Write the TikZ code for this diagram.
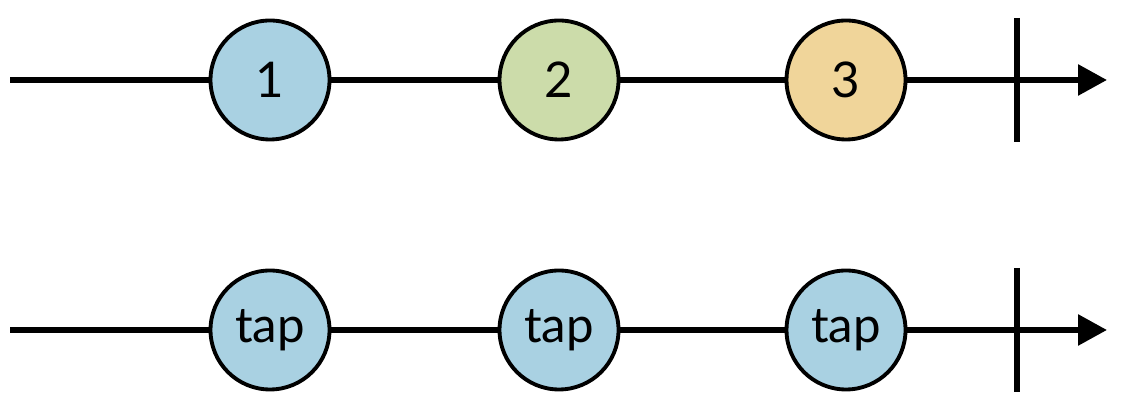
\documentclass[tikz,border=0pt]{standalone}
\usepackage{fontspec}
\setmainfont{Lato}
\usetikzlibrary{arrows.meta}
\definecolor{marbleblue}{RGB}{169, 209, 226}
\definecolor{marblegreen}{RGB}{204, 220, 170}
\definecolor{marbleorange}{RGB}{240, 213, 154}
\tikzset{
    marble/.style={circle, draw=black, line width=2.2pt, minimum size=2.38cm,
        inner sep=0pt, font=\fontsize{28}{34}\selectfont},
    timeline/.style={line width=3.3pt},
    stream end/.style={timeline, -{Triangle[length=0.58cm, width=0.6cm]}}
}
\begin{document}
\begin{tikzpicture}

    \useasboundingbox (0, 0) rectangle (22.5, 8.18);

    % upper stream
    \coordinate (top start) at (0.2, 6.58);
    \coordinate (top end) at (22.14, 6.58);
    \coordinate (top tick) at (20.34, 6.58);
    \node[marble, fill=marbleblue] (one) at (5.4, 6.58) {1};
    \node[marble, fill=marblegreen] (two) at (11.18, 6.58) {2};
    \node[marble, fill=marbleorange] (three) at (16.92, 6.58) {3};

    \draw[timeline] (top start) -- (one) -- (two) -- (three);
    \draw[stream end] (three) -- (top end);
    \draw[timeline] ([yshift=1.24cm]top tick) -- ([yshift=-1.24cm]top tick);

    % lower stream
    \coordinate (bottom start) at (0.2, 1.58);
    \coordinate (bottom end) at (22.14, 1.58);
    \coordinate (bottom tick) at (20.34, 1.58);
    \foreach \name/\x in {tapa/5.4, tapb/11.18, tapc/16.92} {%
        \node[marble, fill=marbleblue] (\name) at (\x, 1.58) {tap};
    };

    \draw[timeline] (bottom start) -- (tapa) -- (tapb) -- (tapc);
    \draw[stream end] (tapc) -- (bottom end);
    \draw[timeline] ([yshift=1.24cm]bottom tick) -- ([yshift=-1.24cm]bottom tick);

\end{tikzpicture}
\end{document}
